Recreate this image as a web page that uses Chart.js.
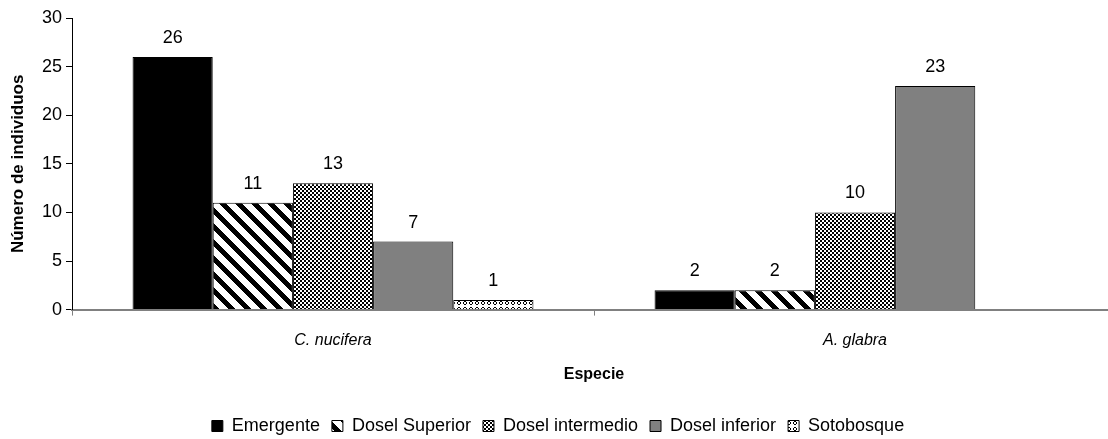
<!DOCTYPE html>
<html>
<head>
<meta charset="utf-8">
<script src="https://cdn.jsdelivr.net/npm/chart.js@4.4.1/dist/chart.umd.min.js"></script>
<style>
  html, body { margin: 0; padding: 0; background: #fff; overflow: hidden; }
  #wrap { width: 1116px; height: 439px; }
</style>
</head>
<body>
<div id="wrap"><canvas id="myChart" width="1116" height="439"></canvas></div>
<script>
// data
const species = ['C. nucifera', 'A. glabra'];
const emergente = [26, 2];
const doselSuperior = [11, 2];
const doselIntermedio = [13, 10];
const doselInferior = [7, 23];
const sotobosque = [1, null];
const yTicks = [0, 5, 10, 15, 20, 25, 30];

const FONT = '"Liberation Sans", Arial, sans-serif';

// little tiles for the hatch fills
const makePattern = (size, paint) => {
    const c = document.createElement('canvas');
    c.width = size; c.height = size;
    const g = c.getContext('2d');
    g.fillStyle = '#fff';
    g.fillRect(0, 0, size, size);
    g.fillStyle = '#000';
    for (let y = 0; y < size; y++) {
        for (let x = 0; x < size; x++) {
            if (paint(x, y)) g.fillRect(x, y, 1, 1);
        }
    }
    return document.createElement('canvas').getContext('2d').createPattern(c, 'repeat');
};

const stripes = makePattern(16, (x, y) => ((x - y + 32) % 16) < 7);
const checks = makePattern(4, (x, y) => ((Math.floor(x / 2) + Math.floor(y / 2)) % 2) === 0 || (x + y) % 4 === 1);
// small rings
const dots = makePattern(6, (x, y) => {
    if (x < 1 || x > 4 || y < 1 || y > 4) return false;
    const edge = x === 1 || x === 4 || y === 1 || y === 4;
    const corner = (x === 1 || x === 4) && (y === 1 || y === 4);
    return edge && !corner;
});

// value labels on top of bars
const valueLabels = {
    id: 'valueLabels',
    afterDatasetsDraw(chart) {
        const ctx = chart.ctx;
        ctx.save();
        ctx.font = '18px ' + FONT;
        ctx.fillStyle = '#000';
        ctx.textAlign = 'center';
        ctx.textBaseline = 'middle';
        chart.data.datasets.forEach((ds, i) => {
            chart.getDatasetMeta(i).data.forEach((bar, j) => {
                const v = ds.data[j];
                if (v === null || v === undefined) return;
                ctx.fillText(String(v), bar.x, bar.y - 19);
            });
        });
        ctx.restore();
    }
};

const ctx = document.getElementById('myChart').getContext('2d');
const myChart = new Chart(ctx, {
    type: 'bar',
    data: {
        labels: species,
        datasets: [
            { label: 'Emergente', data: emergente, backgroundColor: '#000' },
            { label: 'Dosel Superior', data: doselSuperior, backgroundColor: stripes },
            { label: 'Dosel intermedio', data: doselIntermedio, backgroundColor: checks },
            { label: 'Dosel inferior', data: doselInferior, backgroundColor: '#808080' },
            { label: 'Sotobosque', data: sotobosque, backgroundColor: dots }
        ].map(d => Object.assign(d, {
            borderColor: '#000',
            borderWidth: 1,
            barPercentage: 1,
            categoryPercentage: 0.768
        }))
    },
    options: {
        responsive: false,
        animation: false,
        layout: { padding: { top: 18, right: 0, bottom: -6, left: 0 } },
        plugins: {
            tooltip: { enabled: false },
            legend: {
                position: 'bottom',
                labels: {
                    boxWidth: 11,
                    boxHeight: 11,
                    padding: 12,
                    color: '#000',
                    font: { family: FONT, size: 18 }
                }
            }
        },
        scales: {
            x: {
                grid: { offset: true, drawOnChartArea: false, color: '#808080', tickLength: 6 },
                border: { color: '#808080', width: 2 },
                ticks: {
                    color: '#000',
                    padding: 15,
                    font: { family: FONT, size: 16, style: 'italic' }
                },
                title: {
                    display: true,
                    text: 'Especie',
                    color: '#000',
                    padding: { top: 0, bottom: 21 },
                    font: { family: FONT, size: 16, weight: 'bold' }
                }
            },
            y: {
                min: 0,
                max: 30,
                afterBuildTicks: axis => { axis.ticks = yTicks.map(v => ({ value: v })); },
                afterFit: axis => { axis.width = 72; },
                grid: { drawOnChartArea: false, color: '#000', tickLength: 6 },
                border: { color: '#000' },
                ticks: {
                    color: '#000',
                    padding: 4,
                    font: { family: FONT, size: 18 }
                },
                title: {
                    display: true,
                    text: 'Número de individuos',
                    color: '#000',
                    padding: { top: 8, bottom: 0 },
                    font: { family: FONT, size: 17, weight: 'bold' }
                }
            }
        }
    },
    plugins: [valueLabels]
});
</script>
</body>
</html>
